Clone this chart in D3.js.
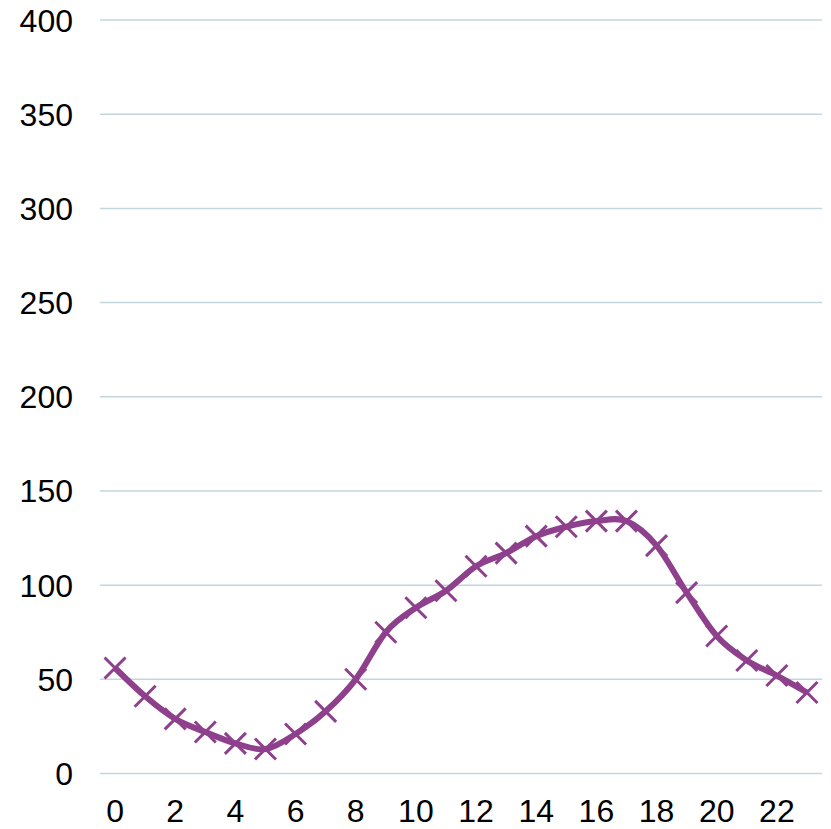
<!DOCTYPE html>
<html><head><meta charset="utf-8">
<script src="https://cdn.jsdelivr.net/npm/d3@7"></script>
<style>body{margin:0;background:#fff}svg{display:block}</style>
</head><body>
<svg id="c" width="831" height="829"></svg>
<script>
const hours = d3.range(0, 24);
const values = [56, 41, 29, 22, 16, 13, 21, 33, 50, 75, 88, 97, 110, 117, 126, 131, 134, 134, 121, 96, 73, 60, 52, 43];
const yTicks = [0, 50, 100, 150, 200, 250, 300, 350, 400];
const xTickLabels = [0, 2, 4, 6, 8, 10, 12, 14, 16, 18, 20, 22];

(function () {
const svg = d3.select("#c");
const mLeft = 100, mRight = 822, mTop = 20, mBottom = 773.5;
const x = d3.scaleBand().domain(hours).range([mLeft, mRight]);
const y = d3.scaleLinear().domain([0, 400]).range([mBottom, mTop]);
const cx = d => x(d) + x.bandwidth() / 2;
const font = "Liberation Sans, Arial, sans-serif";

svg.append("g").selectAll("line").data(yTicks).join("line")
  .attr("x1", mLeft).attr("x2", mRight)
  .attr("y1", d => y(d)).attr("y2", d => y(d))
  .attr("stroke", "#c3d5dd").attr("stroke-width", 1.5);

svg.append("g").selectAll("text").data(yTicks).join("text")
  .attr("x", 73).attr("y", d => y(d)).attr("dy", "0.36em")
  .attr("text-anchor", "end").attr("font-family", font).attr("font-size", 32)
  .attr("fill", "#000").text(d => d);

svg.append("g").selectAll("text").data(xTickLabels).join("text")
  .attr("x", d => cx(d)).attr("y", 822)
  .attr("text-anchor", "middle").attr("font-family", font).attr("font-size", 32)
  .attr("fill", "#000").text(d => d);

const line = d3.line().x((d, i) => cx(hours[i])).y(d => y(d)).curve(d3.curveCatmullRom.alpha(0));
svg.append("path").datum(values).attr("d", line)
  .attr("fill", "none").attr("stroke", "#8e408c").attr("stroke-width", 6)
  .attr("stroke-linejoin", "round");

const s = 10.5;
svg.append("g").selectAll("path").data(values).join("path")
  .attr("d", (d, i) => {
    const px = cx(hours[i]), py = y(d);
    return `M${px - s},${py - s}L${px + s},${py + s}M${px - s},${py + s}L${px + s},${py - s}`;
  })
  .attr("stroke", "#8e408c").attr("stroke-width", 3).attr("fill", "none");
})();
</script>
</body></html>
